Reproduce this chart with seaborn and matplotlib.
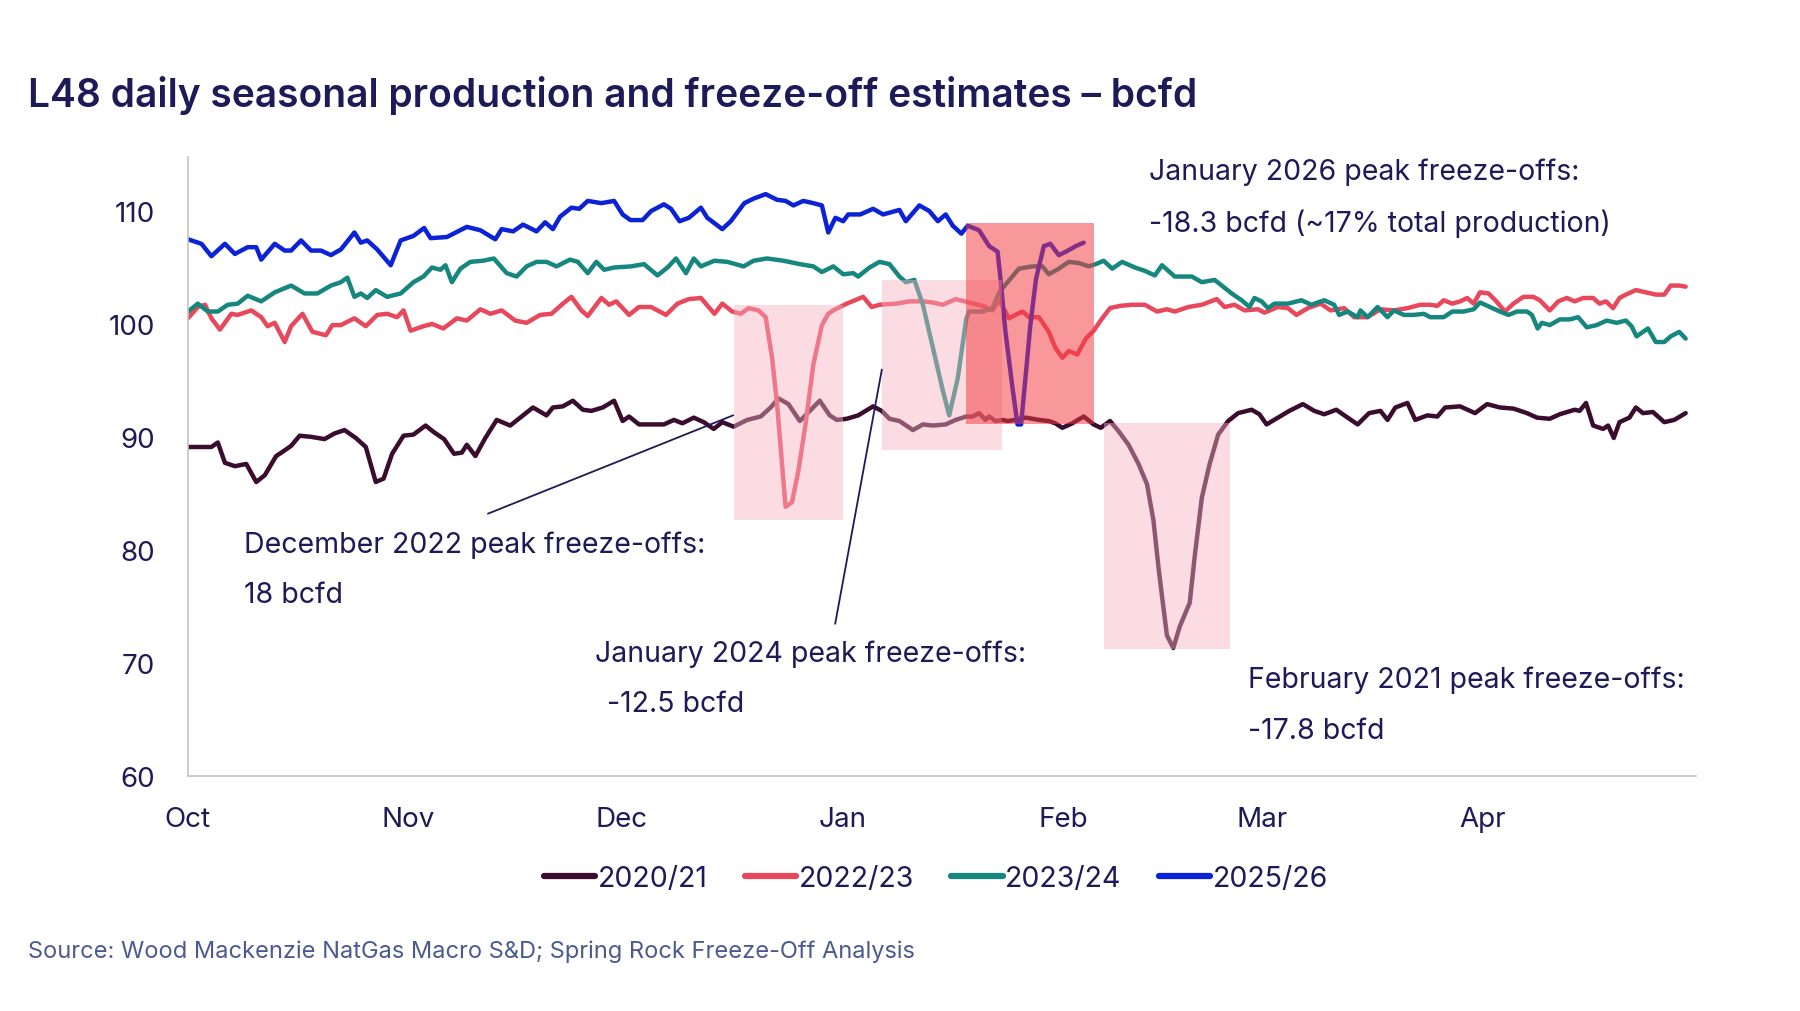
import matplotlib
matplotlib.use("Agg")
import matplotlib.pyplot as plt
from matplotlib.patches import Rectangle
import seaborn as sns
import pandas as pd

# ---------------- data (x = days since 1 Oct, y = bcfd) ----------------
seasons = ["2020/21", "2022/23", "2023/24", "2025/26"]

days_2020 = [0.0, 3.3, 4.2, 5.2, 6.6, 8.2, 9.6, 10.8, 12.4, 13.6, 14.5, 15.7, 17.3, 19.2, 20.6, 22.0,
             23.6, 25.0, 26.4, 27.5, 28.7, 30.3, 31.7, 33.4, 34.6, 36.0, 37.4, 38.5, 39.2, 40.4, 41.8,
             43.4, 45.3, 47.1, 48.5, 50.4, 51.3, 52.7, 54.1, 55.5, 56.7, 58.3, 59.9, 61.1, 62.0, 63.4,
             65.1, 66.9, 68.3, 69.5, 71.1, 72.5, 73.9, 75.1, 76.7, 78.6, 80.5, 81.9, 83.0, 84.4, 86.0,
             87.4, 88.8, 90.2, 91.2, 92.6, 94.2, 96.3, 97.5, 98.6, 100.0, 101.9, 103.3, 104.7, 106.5,
             107.9, 109.4, 110.3, 111.2, 112.1, 112.6, 113.5, 114.5, 115.2, 116.3, 117.8, 119.6, 121.0,
             121.9, 122.9, 124.3, 125.9, 127.3, 128.3, 129.6, 130.8, 132.2, 133.6, 134.8, 135.7, 136.4,
             136.9, 137.6, 138.5, 139.4, 140.8, 141.5, 142.5, 143.6, 144.8, 146.2, 147.6, 149.5, 150.6,
             151.6, 153.2, 154.8, 156.7, 158.3, 159.7, 161.4, 163.0, 164.4, 166.0, 167.6, 168.6, 169.7,
             171.4, 172.5, 174.2, 175.6, 176.7, 178.8, 180.9, 182.6, 184.4, 186.3, 188.2, 189.6, 191.4,
             192.8, 194.9, 195.6, 196.5, 197.5, 198.9, 199.6, 200.4, 201.2, 202.6, 203.5, 204.5, 205.9,
             207.5, 208.9, 210.5]
prod_2020 = [89.1, 89.1, 89.5, 87.7, 87.4, 87.6, 86.0, 86.6, 88.3, 88.8, 89.2, 90.1, 90.0, 89.8, 90.3, 90.6,
             89.9, 89.1, 86.0, 86.3, 88.5, 90.1, 90.2, 91.0, 90.4, 89.8, 88.5, 88.6, 89.3, 88.3, 89.9,
             91.5, 91.0, 91.9, 92.6, 91.9, 92.6, 92.7, 93.2, 92.4, 92.3, 92.6, 93.2, 91.4, 91.8, 91.1,
             91.1, 91.1, 91.5, 91.2, 91.7, 91.3, 90.7, 91.3, 90.9, 91.5, 91.8, 92.6, 93.4, 92.9, 91.4,
             92.3, 93.2, 91.9, 91.5, 91.6, 91.9, 92.7, 92.3, 91.6, 91.4, 90.6, 91.1, 91.0, 91.1,
             91.5, 91.8, 91.8, 92.1, 91.5, 91.8, 91.4, 91.5, 91.4, 91.5, 91.7, 91.5, 91.4,
             91.2, 90.8, 91.2, 91.8, 91.1, 90.8, 91.4, 90.5, 89.3, 87.6, 85.8, 82.6, 78.5,
             75.9, 72.4, 71.3, 73.2, 75.3, 79.4, 84.6, 87.6, 90.2, 91.4, 92.1, 92.4, 92.0,
             91.1, 91.7, 92.3, 92.9, 92.3, 92.0, 92.4, 91.7, 91.1, 92.1, 92.3, 91.5, 92.6,
             93.0, 91.5, 91.9, 91.8, 92.6, 92.7, 92.1, 92.9, 92.6, 92.5, 92.1, 91.7, 91.6,
             92.0, 92.4, 92.3, 93.0, 91.0, 90.7, 91.0, 89.9, 91.3, 91.7, 92.6, 92.1, 92.2,
             91.3, 91.5, 92.1]

days_2022 = [0.0, 1.4, 2.4, 3.3, 4.5, 6.1, 7.0, 8.9, 10.3, 11.2, 12.2, 13.6, 14.5, 16.1, 17.5, 19.4,
             20.3, 21.5, 23.4, 25.0, 26.6, 28.0, 29.4, 30.3, 31.3, 33.1, 34.3, 35.9, 37.8, 39.2, 41.1,
             42.5, 44.1, 46.0, 47.6, 49.5, 51.1, 52.7, 53.9, 55.3, 56.2, 58.1, 59.2, 60.2, 62.0, 63.4,
             65.1, 67.2, 68.8, 70.4, 72.1, 74.0, 75.1, 76.5, 77.7, 78.8, 80.2, 81.2, 82.1, 82.8, 83.5,
             84.0, 84.9, 85.8, 86.8, 87.9, 89.1, 90.0, 90.7, 92.6, 94.9, 96.1, 97.2, 99.6, 101.4, 103.3,
             104.7, 106.1, 107.9, 109.8, 111.7, 113.1, 114.0, 115.4, 116.3, 117.3, 118.2, 119.6, 121.0,
             121.9, 122.9, 123.8, 125.0, 126.2, 127.3, 128.5, 129.6, 131.0, 132.7, 134.5, 136.2, 137.6,
             138.7, 140.6, 142.5, 144.6, 145.7, 147.1, 148.5, 150.4, 151.3, 153.2, 154.6, 155.8, 157.4,
             159.2, 160.6, 162.5, 163.9, 165.8, 167.6, 169.5, 171.4, 173.2, 174.6, 175.6, 176.5, 177.7,
             178.8, 179.8, 180.7, 181.6, 182.8, 183.9, 185.1, 186.3, 187.7, 189.1, 190.0, 191.4, 192.6,
             193.8, 194.9, 196.1, 197.5, 198.4, 199.3, 200.3, 201.2, 202.1, 203.5, 204.9, 206.3, 207.5,
             208.4, 209.6, 210.5]
prod_2022 = [100.5, 101.5, 101.7, 100.5, 99.5, 100.9, 100.8, 101.2, 100.6, 99.8, 100.1, 98.4, 99.8, 100.9, 99.3, 99.0,
             99.9, 99.9, 100.5, 99.8, 100.8, 100.9, 100.6, 101.2, 99.4, 99.8, 100.0, 99.6, 100.5, 100.3, 101.3,
             100.9, 101.2, 100.3, 100.1, 100.8, 100.9, 101.8, 102.4, 101.2, 100.7, 102.3, 101.7, 102.0, 100.8, 101.5,
             101.5, 100.8, 101.8, 102.2, 102.3, 100.9, 101.8, 101.1, 100.9, 101.4, 101.2, 100.6, 97.0, 92.9, 87.6,
             83.8, 84.2, 87.0, 91.1, 96.4, 99.9, 100.9, 101.2, 101.8, 102.4, 101.5, 101.7, 101.8, 102.0, 102.0,
             101.9, 101.7, 102.2, 101.9, 101.6, 101.2, 102.1, 100.5, 100.8, 101.1, 100.6, 100.6, 99.3,
             97.9, 97.0, 97.6, 97.3, 98.7, 99.4, 100.5, 101.4, 101.6, 101.7, 101.7, 101.1, 101.3,
             101.1, 101.5, 101.7, 102.2, 101.5, 101.7, 101.2, 101.3, 101.0, 101.5, 101.4, 100.8, 101.4,
             101.8, 101.2, 101.4, 100.6, 100.6, 101.3, 101.2, 101.4, 101.7, 101.7, 101.6, 102.1, 101.8,
             102.0, 102.3, 101.8, 102.8, 102.7, 102.0, 101.1, 101.8, 102.4, 102.4, 102.1, 101.2, 102.0,
             102.3, 102.0, 102.3, 102.3, 101.8, 102.0, 101.4, 102.3, 102.6, 103.0, 102.8, 102.6, 102.6,
             103.4, 103.4, 103.3]

days_2023 = [0.0, 1.4, 2.8, 4.2, 5.6, 7.0, 8.4, 10.3, 12.2, 14.5, 16.4, 18.2, 20.1, 21.5, 22.4, 23.4,
             24.3, 25.2, 26.4, 28.0, 29.9, 31.7, 33.1, 34.3, 35.5, 36.2, 37.1, 38.3, 39.7, 41.5, 43.0,
             44.8, 46.2, 47.6, 49.0, 50.4, 51.8, 53.7, 54.8, 56.2, 57.4, 58.5, 59.9, 62.3, 64.1, 66.0,
             67.4, 68.6, 70.0, 71.1, 72.1, 74.0, 75.8, 78.1, 79.5, 81.4, 83.7, 86.0, 87.9, 89.1, 90.7,
             92.1, 93.5, 94.2, 95.8, 97.2, 98.6, 100.0, 100.9, 102.1, 103.3, 104.7, 106.1, 107.0, 108.2,
             109.4, 109.8, 111.7, 113.1, 114.0, 115.2, 116.8, 118.7, 120.1, 121.0, 122.4, 123.8, 125.2,
             126.6, 127.6, 128.7, 129.9, 131.3, 133.1, 134.5, 135.9, 136.9, 138.7, 141.1, 142.5, 144.3,
             145.3, 146.7, 148.1, 149.2, 149.9, 150.9, 151.8, 152.7, 154.6, 156.5, 157.9, 159.7, 161.1,
             161.8, 163.0, 164.4, 164.8, 165.8, 167.2, 168.6, 169.5, 170.9, 172.3, 173.7, 174.6, 176.5,
             177.7, 179.3, 180.7, 181.6, 183.0, 184.4, 185.6, 186.8, 188.2, 188.9, 189.7, 190.3, 191.4,
             192.8, 194.2, 195.4, 196.6, 198.0, 199.4, 200.8, 202.1, 202.9, 203.6, 205.2, 206.3, 207.5,
             208.4, 209.6, 210.5]
prod_2023 = [101.1, 101.8, 101.1, 101.1, 101.7, 101.8, 102.5, 102.0, 102.8, 103.4, 102.7, 102.7, 103.4, 103.7, 104.1, 102.4,
             102.7, 102.3, 103.0, 102.4, 102.7, 103.7, 104.2, 105.0, 104.8, 105.2, 103.7, 104.9, 105.5, 105.6, 105.8,
             104.5, 104.2, 105.1, 105.5, 105.5, 105.1, 105.7, 105.5, 104.5, 105.5, 104.8, 105.0, 105.1, 105.3, 104.3,
             105.0, 105.8, 104.5, 105.8, 105.1, 105.6, 105.5, 105.1, 105.6, 105.8, 105.6, 105.3, 105.1, 104.6, 105.1,
             104.4, 104.5, 104.2, 105.0, 105.5, 105.3, 104.2, 103.7, 103.9, 101.7, 97.9, 94.1, 91.9, 95.2,
             100.5, 101.1, 101.1, 101.4, 102.8, 103.7, 104.9, 105.1, 105.1, 104.4, 104.9, 105.5, 105.4,
             105.1, 105.3, 105.6, 104.9, 105.5, 105.0, 104.7, 104.3, 105.2, 104.2, 104.2, 103.7, 103.9,
             103.4, 102.7, 102.1, 101.5, 102.3, 102.0, 101.4, 101.8, 101.8, 102.1, 101.7, 102.1, 101.7,
             100.8, 101.1, 100.6, 101.2, 100.6, 101.5, 100.6, 101.2, 100.8, 100.8, 100.9, 100.6, 100.6,
             101.1, 101.1, 101.3, 101.9, 101.5, 101.1, 100.8, 101.1, 101.1, 100.8, 99.6, 100.1, 99.9,
             100.4, 100.4, 100.6, 99.7, 99.9, 100.3, 100.1, 100.3, 99.8, 98.9, 99.6, 98.4, 98.4,
             98.9, 99.3, 98.7]

days_2025 = [0.0, 1.9, 3.3, 5.2, 6.6, 8.4, 9.6, 10.3, 12.2, 13.6, 14.5, 15.9, 17.3, 18.7, 20.1, 21.5,
             23.4, 24.3, 25.2, 26.6, 28.5, 29.9, 31.7, 33.2, 34.1, 36.4, 39.2, 41.1, 43.2, 44.1, 45.7,
             47.1, 49.0, 50.2, 51.3, 52.3, 53.9, 55.0, 56.2, 58.1, 59.9, 61.1, 62.2, 63.9, 65.1, 66.9,
             67.9, 69.1, 70.4, 72.1, 73.0, 75.1, 76.3, 78.2, 79.5, 81.2, 82.8, 84.0, 85.1, 86.5, 87.9,
             89.1, 90.0, 91.0, 92.1, 92.8, 94.5, 96.3, 97.7, 100.0, 100.9, 102.8, 104.2, 105.4, 106.5,
             107.5, 108.7, 109.6, 111.2, 112.6, 113.8, 114.2, 114.9, 115.9, 116.6, 117.1, 117.8, 118.4,
             119.2, 120.3, 121.2, 122.4, 123.4, 124.8, 125.9]
prod_2025 = [107.5, 107.1, 106.0, 107.1, 106.2, 106.8, 106.8, 105.7, 107.1, 106.5, 106.5, 107.4, 106.5, 106.5, 106.1, 106.6,
             108.1, 107.2, 107.4, 106.6, 105.2, 107.4, 107.8, 108.5, 107.6, 107.7, 108.6, 108.3, 107.5, 108.4, 108.2,
             108.8, 108.2, 109.0, 108.4, 109.5, 110.3, 110.2, 110.9, 110.7, 110.9, 109.7, 109.2, 109.2, 110.0, 110.6,
             110.2, 109.1, 109.4, 110.3, 109.4, 108.4, 109.1, 110.7, 111.1, 111.5, 111.0, 110.9, 110.5, 110.9, 110.7,
             110.5, 108.1, 109.4, 109.1, 109.7, 109.7, 110.2, 109.7, 110.1, 109.1, 110.5, 110.0, 109.1, 109.7,
             108.7, 108.0, 108.7, 108.3, 106.9, 106.4, 104.0, 99.3, 94.3, 91.1, 91.1, 95.8, 99.9,
             104.0, 106.9, 107.1, 106.1, 106.4, 106.9, 107.2]

# freeze-off windows: (start day, end day, low bcfd, high bcfd)
pink_windows = [(76.7, 92.1, 82.6, 101.7), (97.5, 114.4, 88.8, 103.9), (128.7, 146.4, 71.2, 91.2)]
red_window = (109.3, 127.3, 91.1, 108.9)

month_ticks = [0, 31, 61, 92, 123, 151, 182, 212]
month_labels = ["Oct", "Nov", "Dec", "Jan", "Feb", "Mar", "Apr", ""]
y_ticks = [60, 70, 80, 90, 100, 110]

colors = {"2020/21": "#3a0c2e", "2022/23": "#e8485c", "2023/24": "#16877f", "2025/26": "#0b22d6"}
navy = "#1d1a58"

frames = []
for s, d, v in [("2020/21", days_2020, prod_2020), ("2022/23", days_2022, prod_2022),
                ("2023/24", days_2023, prod_2023), ("2025/26", days_2025, prod_2025)]:
    frames.append(pd.DataFrame({"day": d, "bcfd": v, "season": s}))
df = pd.concat(frames, ignore_index=True)

# ---------------- plotting ----------------
sns.set_theme(style="white")
plt.rcParams["font.family"] = ["Inter", "DejaVu Sans"]

fig = plt.figure(figsize=(18, 10.12), dpi=100)
ax = fig.add_axes([0.1044, 0.2327, 0.8380, 0.6113])

sns.lineplot(data=df, x="day", y="bcfd", hue="season", hue_order=seasons, palette=colors,
             estimator=None, linewidth=3.2, ax=ax, zorder=2)

for (x0, x1, y0, y1) in pink_windows:
    ax.add_patch(Rectangle((x0, y0), x1 - x0, y1 - y0, facecolor="#f6b3c0", alpha=0.45,
                           edgecolor="none", zorder=3))
x0, x1, y0, y1 = red_window
ax.add_patch(Rectangle((x0, y0), x1 - x0, y1 - y0, facecolor="#f43a40", alpha=0.52,
                       edgecolor="none", zorder=3))

ax.set_xlim(0, 212)
ax.set_ylim(60, 114.8)
ax.set_xticks(month_ticks)
ax.set_xticklabels(month_labels)
ax.set_yticks(y_ticks)
ax.set_xlabel("")
ax.set_ylabel("")
for sp in ["top", "right"]:
    ax.spines[sp].set_visible(False)
for sp in ["left", "bottom"]:
    ax.spines[sp].set_color("#c4c4c4")
    ax.spines[sp].set_linewidth(1.2)
ax.tick_params(axis="x", length=9, width=1.2, color="#c4c4c4", direction="out", pad=13,
               labelsize=20, labelcolor=navy)
ax.tick_params(axis="y", length=0, pad=24, labelsize=20, labelcolor=navy)

# annotations
tkw = dict(fontsize=20.5, color=navy, ha="left", va="center", zorder=5)
ax.text(135.1, 113.5, "January 2026 peak freeze-offs:", **tkw)
ax.text(135.1, 109.0, "-18.3 bcfd (~17% total production)", **tkw)
ax.text(7.9, 80.5, "December 2022 peak freeze-offs:", **tkw)
ax.text(7.9, 76.0, "18 bcfd", **tkw)
ax.text(57.2, 70.8, "January 2024 peak freeze-offs:", **tkw)
ax.text(57.8, 66.4, " -12.5 bcfd", **tkw)
ax.text(149.0, 68.5, "February 2021 peak freeze-offs:", **tkw)
ax.text(149.0, 64.0, "-17.8 bcfd", **tkw)

lkw = dict(arrowstyle="-", color=navy, lw=1.3)
ax.annotate("", xy=(77.0, 92.0), xytext=(41.8, 83.1), arrowprops=lkw, zorder=5)
ax.annotate("", xy=(97.6, 96.2), xytext=(90.9, 73.2), arrowprops=lkw, zorder=5)

# legend
sns.move_legend(ax, "center", bbox_to_anchor=(0.52, 0.131), bbox_transform=fig.transFigure,
                ncol=4, frameon=False, title=None, fontsize=20.5, handlelength=1.8,
                handletextpad=0.1, columnspacing=1.3)
leg = ax.get_legend()
for t in leg.get_texts():
    t.set_color(navy)
for h in leg.legend_handles:
    h.set_linewidth(4.5)

fig.text(0.0156, 0.906, "L48 daily seasonal production and freeze-off estimates \u2013 bcfd",
         fontsize=28, fontweight="semibold", color=navy, ha="left", va="center")
fig.text(0.0156, 0.060, "Source: Wood Mackenzie NatGas Macro S&D; Spring Rock Freeze-Off Analysis",
         fontsize=17, color="#4b5a8e", ha="left", va="center")

fig.savefig("out.png", dpi=100, facecolor="white")
